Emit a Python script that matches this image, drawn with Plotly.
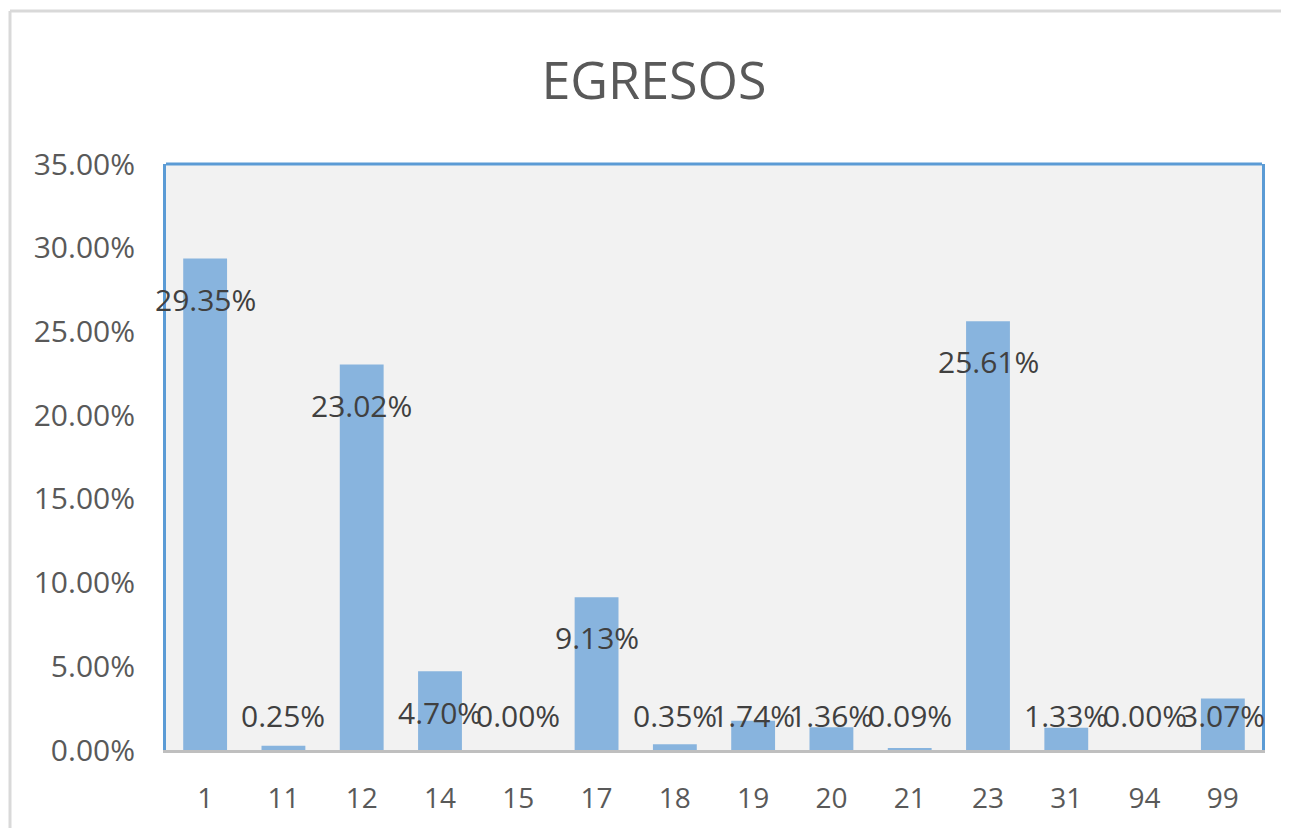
import plotly.graph_objects as go

categories = ["1", "11", "12", "14", "15", "17", "18", "19", "20", "21", "23", "31", "94", "99"]
values = [29.35, 0.25, 23.02, 4.70, 0.00, 9.13, 0.35, 1.74, 1.36, 0.09, 25.61, 1.33, 0.00, 3.07]
tick_vals = [0, 5, 10, 15, 20, 25, 30, 35]
tick_text = ["0.00%", "5.00%", "10.00%", "15.00%", "20.00%", "25.00%", "30.00%", "35.00%"]

# page body has an 8px margin, so the figure sits at (8, 8)
OFF = 8
W, H = 1289 - 2 * OFF, 836 - 2 * OFF
L, R, T, B = 166 - OFF, 1262 - OFF, 164 - OFF, 754 - OFF
YMAX = 35.0
px_per_unit = (B - T) / YMAX

FONT = "Open Sans"
TICK_COLOR = "#595959"
LABEL_COLOR = "#404040"

fig = go.Figure()
fig.add_trace(go.Bar(
    x=categories, y=values,
    marker=dict(color="#88b4de", line=dict(width=0)),
    hoverinfo="skip",
))

# data labels ("inside end" style, with a floor above the axis)
offset_units = 41 / px_per_unit
floor_units = 35 / px_per_unit
annotations = []
for i, (c, v) in enumerate(zip(categories, values)):
    ly = max(v - offset_units, floor_units)
    annotations.append(dict(
        x=i, y=ly, xref="x", yref="y", text=f"{v:.2f}%", showarrow=False,
        xanchor="center", yanchor="middle",
        font=dict(family=FONT, size=30, color=LABEL_COLOR),
    ))

pw = R - L
ph = B - T
def px2x(p):
    return (p - OFF - L) / pw
def py2y(p):
    return (B - (p - OFF)) / ph

shapes = [
    # top blue border of plot area
    dict(type="line", xref="paper", yref="paper", x0=0, x1=1, y0=1, y1=1,
         line=dict(color="#5b9bd5", width=3), layer="above"),
    # outer chart border (top and left visible)
    dict(type="line", xref="paper", yref="paper", x0=px2x(10), x1=px2x(1300), y0=py2y(10), y1=py2y(10),
         line=dict(color="#d9d9d9", width=3), layer="above"),
    dict(type="line", xref="paper", yref="paper", x0=px2x(10), x1=px2x(10), y0=py2y(10), y1=py2y(850),
         line=dict(color="#d9d9d9", width=3), layer="above"),
]

fig.update_layout(
    width=W, height=H,
    margin=dict(l=L, r=W - R, t=T, b=H - B, pad=0),
    paper_bgcolor="white",
    plot_bgcolor="#f2f2f2",
    bargap=0.44,
    showlegend=False,
    title=dict(text="EGRESOS", x=(654 - OFF) / W, xanchor="center",
               y=1 - (81 - OFF) / H, yanchor="middle", xref="container", yref="container",
               font=dict(family=FONT, size=52, color=TICK_COLOR)),
    xaxis=dict(type="category", range=[-0.5, len(categories) - 0.5],
               showline=True, linecolor="#bfbfbf", linewidth=3,
               ticks="outside", ticklen=21, tickcolor="rgba(0,0,0,0)",
               tickfont=dict(family=FONT, size=28, color=TICK_COLOR),
               showgrid=False, zeroline=False),
    yaxis=dict(range=[0, YMAX], tickvals=tick_vals, ticktext=tick_text,
               showline=True, linecolor="#5b9bd5", linewidth=3, mirror=True,
               ticks="outside", ticklen=22, tickcolor="rgba(0,0,0,0)",
               tickfont=dict(family=FONT, size=30, color=TICK_COLOR),
               showgrid=False, zeroline=False),
    annotations=annotations,
    shapes=shapes,
)

fig.write_html("out.html")
